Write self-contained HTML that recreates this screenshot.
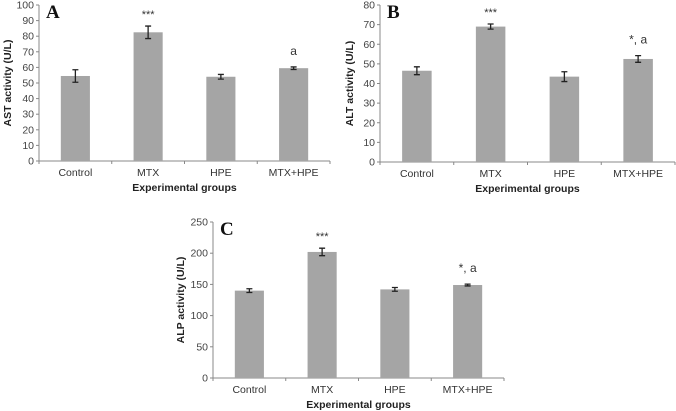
<!DOCTYPE html>
<html><head><meta charset="utf-8"><style>
body{margin:0;background:#fff;}
svg{display:block;font-family:"Liberation Sans",sans-serif;}
</style></head><body>
<svg id="s" width="676" height="411" viewBox="0 0 676 411"></svg>
<script>
const categories=["Control","MTX","HPE","MTX+HPE"];
const astValues=[54.5,82.5,54,59.5];
const astErrors=[4,4,1.5,0.8];
const astMarks=["","***","","a"];
const astTicks=[0,10,20,30,40,50,60,70,80,90,100];
const altValues=[46.5,69,43.5,52.5];
const altErrors=[2,1.3,2.5,1.7];
const altMarks=["","***","","*, a"];
const altTicks=[0,10,20,30,40,50,60,70,80];
const alpValues=[140,202,142,149];
const alpErrors=[3,6,3,1.5];
const alpMarks=["","***","","*, a"];
const alpTicks=[0,50,100,150,200,250];

const NS="http://www.w3.org/2000/svg";
const svg=document.getElementById('s');
function mk(tag,attrs,parent,text){const e=document.createElementNS(NS,tag);for(const k in attrs)e.setAttribute(k,attrs[k]);if(text!==undefined)e.textContent=text;(parent||svg).appendChild(e);return e;}

function panel(cfg,values,errors,marks,ticks){
  const g=mk('g',{});
  
  
  const max=ticks[ticks.length-1];
  const y=v=>cfg.y0-(v/max)*(cfg.y0-cfg.yTop);
  const band=(cfg.xEnd-cfg.x0)/categories.length;
  const x=i=>cfg.x0+band*(i+0.5);
  const bw=band*0.4;
  // y axis
  const ya=mk('line',{x1:cfg.x0,y1:cfg.yTop,x2:cfg.x0,y2:cfg.y0,stroke:'#888','stroke-width':1},g);
  
  
  ticks.forEach(t=>{
    mk('line',{x1:cfg.x0-3,y1:y(t),x2:cfg.x0,y2:y(t),stroke:'#888'},g);
    const tl=mk('text',{x:cfg.x0-5,y:y(t)+3.5,'text-anchor':'end','font-size':10.5,fill:'#444'},g,t);
    
    
  });
  const xa=mk('line',{x1:cfg.x0,y1:cfg.y0,x2:cfg.xEnd,y2:cfg.y0,stroke:'#888'},g);
  
  
  for(let i=0;i<=categories.length;i++)mk('line',{x1:cfg.x0+band*i,y1:cfg.y0,x2:cfg.x0+band*i,y2:cfg.y0+3,stroke:'#888'},g);
  categories.forEach((c,i)=>{
    const b=mk('rect',{x:x(i)-bw/2,y:y(values[i]),width:bw,height:cfg.y0-y(values[i]),fill:'#a5a5a5'},g);
    
    
    const hi=y(values[i]+errors[i]),lo=y(values[i]-errors[i]);
    const eb=mk('path',{d:`M${x(i)},${hi}V${lo}M${x(i)-3},${hi}H${x(i)+3}M${x(i)-3},${lo}H${x(i)+3}`,stroke:'#222','stroke-width':1.3,fill:'none'},g);
    
    
    if(marks[i]){
      const m=mk('text',{x:x(i),y:hi-(marks[i]==='***'?8:12),'text-anchor':'middle','font-size':marks[i]==='***'?11:12,fill:'#333'},g,marks[i]);
      
      
    }
    const cl=mk('text',{x:x(i),y:cfg.y0+15,'text-anchor':'middle','font-size':10.5,fill:'#333'},g,c);
    
    
  });
  const xt=mk('text',{x:(cfg.x0+cfg.xEnd)/2,y:cfg.y0+30,'text-anchor':'middle','font-size':10.5,'font-weight':'bold',fill:'#222'},g,'Experimental groups');
  
  
  const cy=(cfg.yTop+cfg.y0)/2;
  const yt=mk('text',{x:cfg.yLabelX,y:cy,'text-anchor':'middle','font-size':10.5,'font-weight':'bold',fill:'#222',transform:`rotate(-90 ${cfg.yLabelX} ${cy})`},g,cfg.ylabel);
  
  
  const L=mk('text',{x:cfg.x0+7,y:cfg.yTop+13,'font-size':19,'font-weight':'bold','font-family':'Liberation Serif, serif',fill:'#111'},g,cfg.letter);
  
  
}
panel({name:'panel-a-ast',x0:39,xEnd:330,yTop:5,y0:161,yLabelX:11,ylabel:'AST activity (U/L)',letter:'A'},astValues,astErrors,astMarks,astTicks);
panel({name:'panel-b-alt',x0:380,xEnd:675,yTop:5,y0:162,yLabelX:353,ylabel:'ALT activity (U/L)',letter:'B'},altValues,altErrors,altMarks,altTicks);
panel({name:'panel-c-alp',x0:213,xEnd:504,yTop:222,y0:378,yLabelX:184,ylabel:'ALP activity (U/L)',letter:'C'},alpValues,alpErrors,alpMarks,alpTicks);
</script>
</body></html>
